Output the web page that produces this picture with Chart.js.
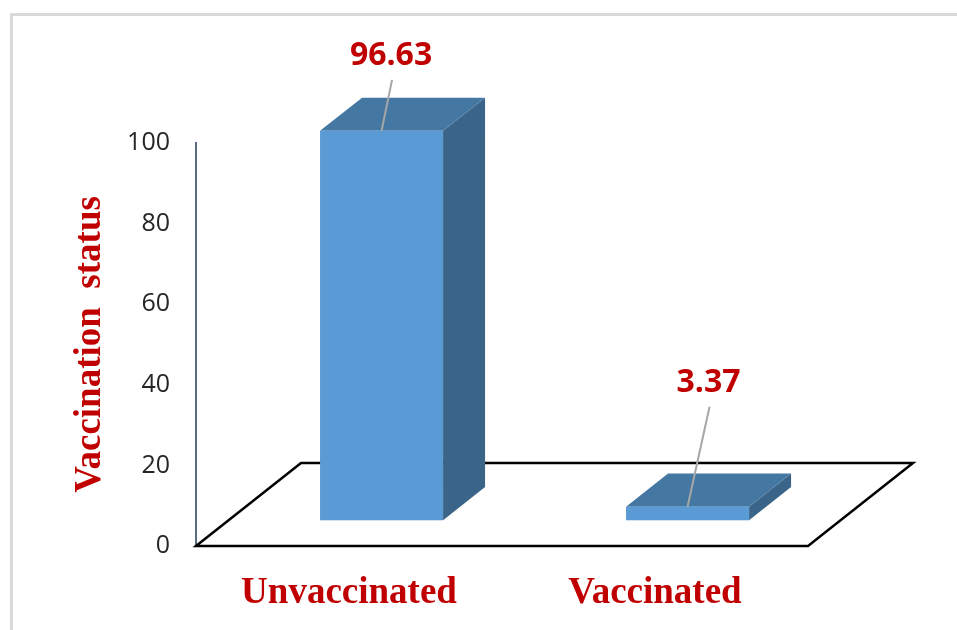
<!DOCTYPE html>
<html>
<head>
<meta charset="utf-8">
<script src="https://cdn.jsdelivr.net/npm/chart.js@4.4.1/dist/chart.umd.min.js"></script>
<style>
  html, body { margin: 0; padding: 0; background: #ffffff; }
  canvas { display: block; }
</style>
</head>
<body>
<canvas id="chart" width="957" height="630"></canvas>
<script>
// ---- data ----
const categories = ['Unvaccinated', 'Vaccinated'];
const percentages = [96.63, 3.37];
const yTickValues = [0, 20, 40, 60, 80, 100];

// ---- styling / placement ----
// where each value label's baseline centre sits relative to the bar's front-top centre
const labelOffsets = [[9.5, -66], [21, -115]];
const FLOOR_DEPTH = { dx: 105, dy: -83 };        // oblique depth vector of the floor
const BAR_DEPTH = { front: 0.31, back: 0.71 };   // bar's position inside the floor depth
const COLORS = {
  front: '#5b9bd5', top: '#4577a3', side: '#3a6488',
  floor: '#000000', axis: '#5a6a80', leader: '#a6a6a6',
  red: '#c00000', tick: '#262626', frame: '#d9d9d9'
};
const SERIF_BOLD = { family: '"Liberation Serif", "Times New Roman", serif', size: 37, weight: 'bold' };

// light frame around the whole figure
const framePlugin = {
  id: 'frame',
  beforeDraw(chart) {
    const ctx = chart.ctx;
    ctx.save();
    ctx.strokeStyle = COLORS.frame;
    ctx.lineWidth = 3;
    ctx.strokeRect(11.5, 14.5, chart.width + 20, chart.height + 20);
    ctx.restore();
  }
};

// oblique floor under the bars
const floorPlugin = {
  id: 'floor3d',
  beforeDatasetsDraw(chart) {
    const { ctx, chartArea: { left, right }, scales: { y } } = chart;
    const y0 = y.getPixelForValue(0);
    ctx.save();
    ctx.strokeStyle = COLORS.floor;
    ctx.lineWidth = 2.5;
    ctx.lineJoin = 'miter';
    ctx.beginPath();
    ctx.moveTo(left, y0);
    ctx.lineTo(left + FLOOR_DEPTH.dx, y0 + FLOOR_DEPTH.dy);
    ctx.lineTo(right + FLOOR_DEPTH.dx, y0 + FLOOR_DEPTH.dy);
    ctx.lineTo(right, y0);
    ctx.closePath();
    ctx.stroke();
    ctx.restore();
  }
};

// extruded bars, leader lines and value labels
const bars3dPlugin = {
  id: 'bars3d',
  afterDatasetsDraw(chart) {
    const ctx = chart.ctx;
    const meta = chart.getDatasetMeta(0);
    const fx = FLOOR_DEPTH.dx * BAR_DEPTH.front, fy = FLOOR_DEPTH.dy * BAR_DEPTH.front;
    const ddx = FLOOR_DEPTH.dx * (BAR_DEPTH.back - BAR_DEPTH.front);
    const ddy = FLOOR_DEPTH.dy * (BAR_DEPTH.back - BAR_DEPTH.front);
    ctx.save();
    meta.data.forEach((bar, i) => {
      const { x, y, base, width } = bar.getProps(['x', 'y', 'base', 'width'], true);
      const x0 = x - width / 2 + fx, x1 = x + width / 2 + fx;
      const yt = y + fy, yb = base + fy;

      // side face
      ctx.fillStyle = COLORS.side;
      ctx.beginPath();
      ctx.moveTo(x1, yt); ctx.lineTo(x1 + ddx, yt + ddy);
      ctx.lineTo(x1 + ddx, yb + ddy); ctx.lineTo(x1, yb);
      ctx.closePath(); ctx.fill();

      // top face
      ctx.fillStyle = COLORS.top;
      ctx.beginPath();
      ctx.moveTo(x0, yt); ctx.lineTo(x0 + ddx, yt + ddy);
      ctx.lineTo(x1 + ddx, yt + ddy); ctx.lineTo(x1, yt);
      ctx.closePath(); ctx.fill();

      // front face
      ctx.fillStyle = COLORS.front;
      ctx.fillRect(x0, yt, x1 - x0, yb - yt);

      // leader line and value label
      const cx = (x0 + x1) / 2;
      const [ox, oy] = labelOffsets[i];
      const lx = cx + ox, ly = yt + oy;
      ctx.strokeStyle = COLORS.leader;
      ctx.lineWidth = 2;
      ctx.beginPath();
      ctx.moveTo(cx, yt);
      ctx.lineTo(lx + 1, ly + 15);
      ctx.stroke();

      ctx.fillStyle = COLORS.red;
      ctx.font = 'bold 32px "Open Sans", "Liberation Sans", sans-serif';
      ctx.textAlign = 'center';
      ctx.textBaseline = 'alphabetic';
      ctx.fillText(percentages[i].toFixed(2), lx, ly);
    });
    ctx.restore();
  }
};

new Chart(document.getElementById('chart'), {
  type: 'bar',
  data: {
    labels: categories,
    datasets: [{
      data: percentages,
      backgroundColor: 'rgba(0,0,0,0)',
      borderWidth: 0,
      categoryPercentage: 1,
      barPercentage: 0.402
    }]
  },
  options: {
    responsive: false,
    animation: false,
    devicePixelRatio: 1,
    layout: { padding: { left: 20, top: 143, right: 149, bottom: 0 } },
    plugins: { legend: { display: false }, tooltip: { enabled: false } },
    scales: {
      x: {
        grid: { display: false, drawTicks: false },
        border: { display: false },
        ticks: {
          color: COLORS.red,
          font: SERIF_BOLD,
          padding: 25,
          maxRotation: 0,
          autoSkip: false
        },
        afterFit(scale) { scale.height = 84; }
      },
      y: {
        min: 0,
        max: 100,
        grid: { display: false, drawTicks: false },
        border: { display: true, color: COLORS.axis, width: 2 },
        afterBuildTicks(scale) { scale.ticks = yTickValues.map(v => ({ value: v })); },
        ticks: {
          color: COLORS.tick,
          font: { family: '"Open Sans", "Liberation Sans", sans-serif', size: 25 },
          padding: 26
        },
        title: {
          display: true,
          text: 'Vaccination  status',
          color: COLORS.red,
          font: SERIF_BOLD,
          padding: { top: 48, bottom: 0 }
        },
        afterFit(scale) { scale.width = 176; }
      }
    }
  },
  plugins: [framePlugin, floorPlugin, bars3dPlugin]
});
</script>
</body>
</html>
